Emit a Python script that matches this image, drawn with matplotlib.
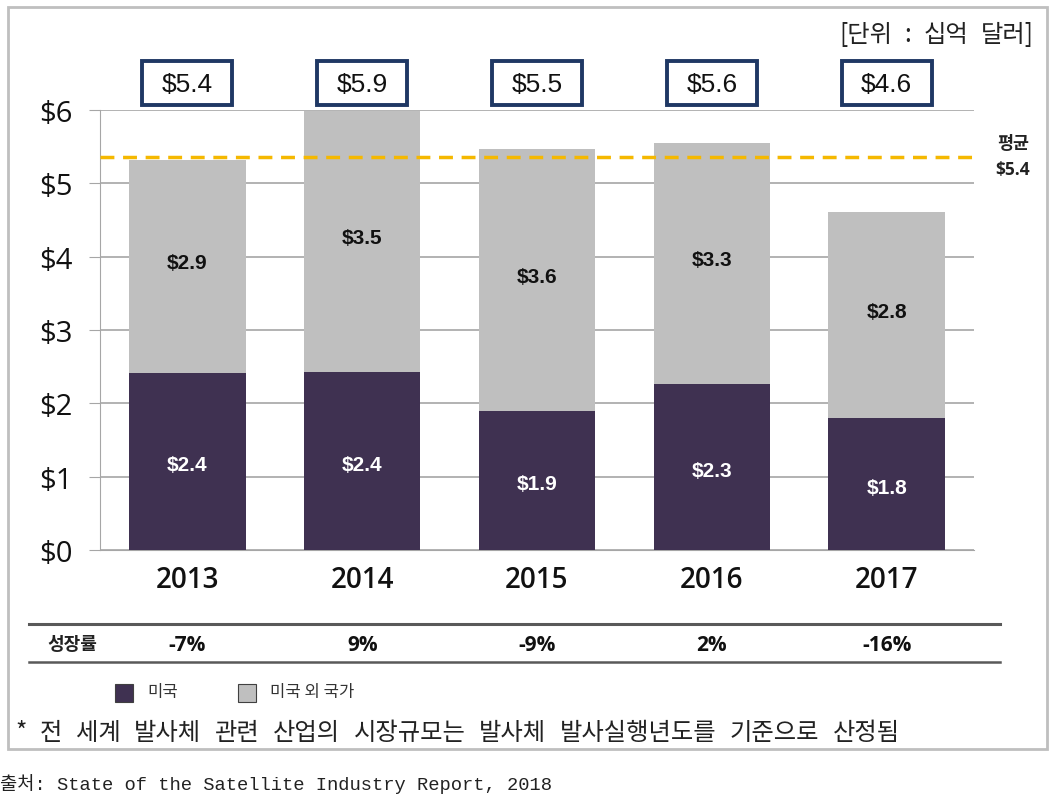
import matplotlib
matplotlib.use("Agg")
import matplotlib.pyplot as plt
from matplotlib.patches import Rectangle
from matplotlib.lines import Line2D
import matplotlib.transforms as mtransforms

years = ["2013", "2014", "2015", "2016", "2017"]
usa = [2.42, 2.43, 1.90, 2.27, 1.80]
non_usa = [2.90, 3.56, 3.57, 3.28, 2.81]
usa_labels = ["$2.4", "$2.4", "$1.9", "$2.3", "$1.8"]
non_usa_labels = ["$2.9", "$3.5", "$3.6", "$3.3", "$2.8"]
total_labels = ["$5.4", "$5.9", "$5.5", "$5.6", "$4.6"]
growth = ["-7%", "9%", "-9%", "2%", "-16%"]
average = 5.36
yticks = [0, 1, 2, 3, 4, 5, 6]
ytick_labels = ["$0", "$1", "$2", "$3", "$4", "$5", "$6"]
note = "* 전 세계 발사체 관련 산업의 시장규모는 발사체 발사실행년도를 기준으로 산정됨"
source = "출처: State of the Satellite Industry Report, 2018"
unit = "[단위 : 십억 달러]"

KR = ["Noto Sans CJK KR", "DejaVu Sans"]
OPEN = ["Open Sans", "Noto Sans CJK KR", "DejaVu Sans"]
NARROW = ["Liberation Sans Narrow", "Liberation Sans", "DejaVu Sans"]
MONO = ["Liberation Mono", "Noto Sans CJK KR"]
plt.rcParams["font.family"] = KR

W, H = 1057, 803
fig = plt.figure(figsize=(W / 100, H / 100), dpi=100)

def fx(px):
    return px / W

def fy(py):
    return 1 - py / H

# outer border
fig.patches.append(Rectangle((fx(8), fy(750)), fx(1047) - fx(8), fy(8) - fy(750),
                             transform=fig.transFigure, fill=False,
                             edgecolor="#BFBFBF", lw=2.0))

ax = fig.add_axes([fx(100), fy(551), fx(974) - fx(100), fy(111) - fy(551)])
x = list(range(len(years)))
purple = "#3F3151"
gray = "#BFBFBF"
ax.bar(x, usa, width=0.665, color=purple, zorder=3)
ax.bar(x, non_usa, width=0.665, bottom=usa, color=gray, zorder=3)

ax.set_xlim(-0.5, 4.5)
ax.set_ylim(0, 6)
ax.set_yticks(yticks)
ax.set_yticklabels(ytick_labels, fontsize=21, color="#111111", family=OPEN)
ax.tick_params(axis="y", length=8, color="#A6A6A6", pad=12)
ax.set_xticks(x)
ax.set_xticklabels(years, fontsize=20, color="#111111", family=OPEN, fontweight="semibold")
ax.tick_params(axis="x", length=0, pad=11)
for s in ["top", "right"]:
    ax.spines[s].set_visible(False)
ax.spines["left"].set_color("#A6A6A6")
ax.spines["bottom"].set_color("#A6A6A6")
ax.grid(axis="y", color="#A6A6A6", lw=1.2, zorder=0)

for i in x:
    ax.text(i, usa[i] / 2 - 0.05, usa_labels[i], ha="center", va="center",
            color="white", fontsize=15, fontweight="bold", family=NARROW, zorder=5)
    ax.text(i, usa[i] + non_usa[i] / 2 + 0.05, non_usa_labels[i], ha="center",
            va="center", color="#111111", fontsize=15, fontweight="bold",
            family=NARROW, zorder=5)

ax.axhline(average, xmin=0, xmax=1, color="#F5B800", lw=2.5, ls=(0, (4, 2.5)), zorder=4)

# total boxes
trans = mtransforms.blended_transform_factory(ax.transData, fig.transFigure)
bw = 90 / 174.8
for i in x:
    ax.add_patch(Rectangle((i - bw / 2, fy(106)), bw, fy(62) - fy(106), transform=trans,
                           fill=True, facecolor="white", edgecolor="#1F3864", lw=2.8,
                           clip_on=False, zorder=6))
    ax.text(i, fy(85), total_labels[i], transform=trans, ha="center", va="center",
            fontsize=19, family=NARROW, color="#111111", zorder=7, clip_on=False)
    ax.text(i, fy(646), growth[i], transform=trans, ha="center", va="center",
            fontsize=15, fontweight="bold", family=OPEN, color="#111111", clip_on=False)

fig.text(fx(1013), fy(144), "평균", ha="center", va="center", fontsize=12.5,
         fontweight="bold", color="#222222")
fig.text(fx(1013), fy(170), "$5.4", ha="center", va="center", fontsize=12.5,
         fontweight="bold", family=OPEN, color="#222222")

# growth row lines
for py, lw in [(625, 2.2), (663, 1.8)]:
    fig.add_artist(Line2D([fx(29), fx(1000)], [fy(py), fy(py)], transform=fig.transFigure,
                          color="#595959", lw=lw))
fig.text(fx(72), fy(645), "성장률", ha="center", va="center", fontsize=13,
         fontweight="bold", color="#222222")

# legend
for px, col, lab in [(115, purple, "미국"), (238, gray, "미국 외 국가")]:
    fig.patches.append(Rectangle((fx(px), fy(703)), fx(18), 18 / H,
                                 transform=fig.transFigure, facecolor=col,
                                 edgecolor="#404040", lw=0.8))
    fig.text(fx(px + 32), fy(693), lab, ha="left", va="center", fontsize=12,
             color="#333333")

# wide-spaced texts: words spread over the span seen in the original
fig.canvas.draw()
renderer = fig.canvas.get_renderer()

def spread(text, x0, x1, py, size):
    words = text.split(" ")
    arts, widths = [], []
    for w in words:
        t = fig.text(0, fy(py), w, ha="left", va="center", fontsize=size,
                     color="#222222")
        widths.append(t.get_window_extent(renderer).width)
        arts.append(t)
    gap = ((x1 - x0) - sum(widths)) / (len(words) - 1)
    cur = x0
    for t, wd in zip(arts, widths):
        t.set_x(fx(cur))
        cur += wd + gap

spread(note, 15, 900, 733, 17.5)
spread(unit, 839, 1034, 35, 17.5)

fig.text(fx(0), fy(784), source, ha="left", va="center", fontsize=13.5,
         family=MONO, color="#222222")

fig.savefig("out.png", dpi=100)
